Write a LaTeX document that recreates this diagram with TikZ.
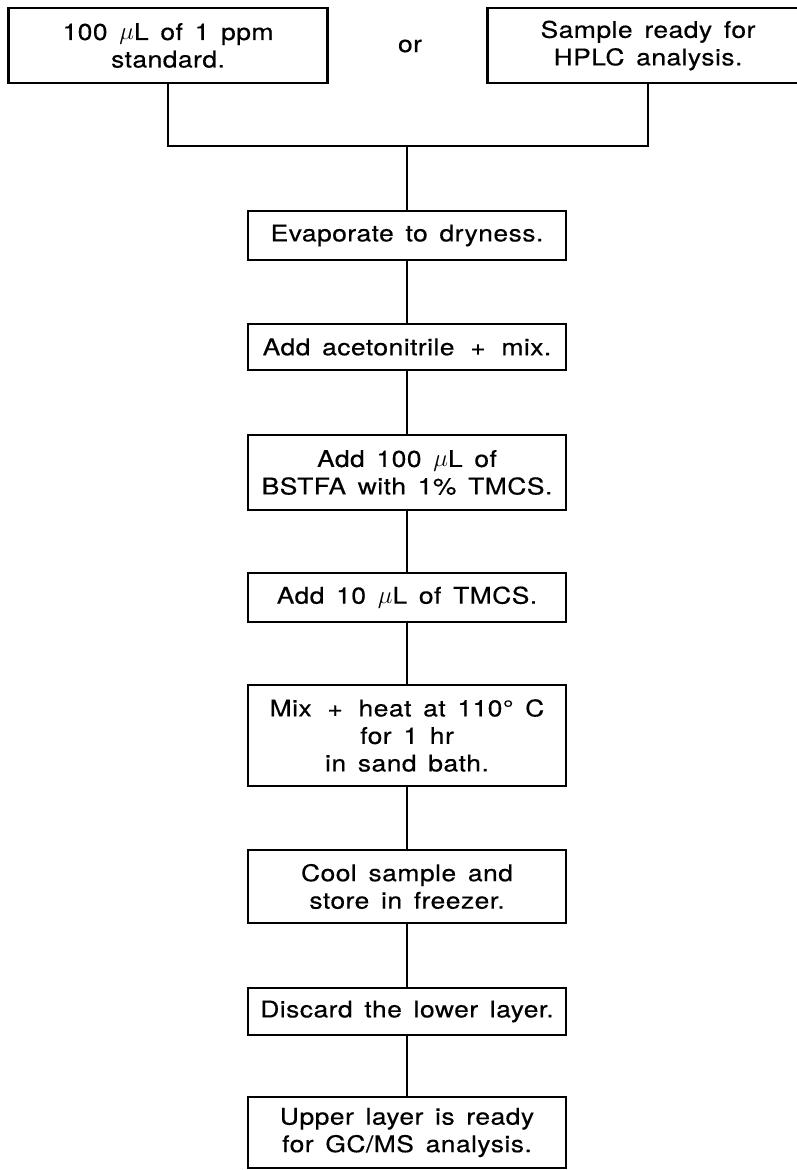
\documentclass[tikz,border=0pt]{standalone}
\usepackage{fontspec}
\setmainfont{TeX Gyre Heros}[FakeStretch=1.15, LetterSpace=2, WordSpace=1.5, FakeBold=0.4]
\newcommand{\plusgap}{\kern4pt}
\begin{document}
\begin{tikzpicture}[x=1pt,y=-1pt,
  box/.style={draw, line width=2.5pt, align=center, inner sep=0pt,
    minimum width=318pt, font=\fontsize{23}{27.5}\selectfont},
  lbl/.style={font=\fontsize{23}{27.5}\selectfont, inner sep=0pt},
  link/.style={line width=2.2pt}]
\useasboundingbox (0,0) rectangle (797,1170);
\node[box, minimum width=319pt, minimum height=75pt] (std) at (168,45.5) {100 $\mu$L of 1 ppm\\standard.};
\node[box, minimum width=321pt, minimum height=75pt] (hplc) at (648,45.5) {Sample ready for\\HPLC analysis.};
\node[lbl] (or) at (410,46) {or};
\coordinate (j) at (407,146);
\node[box, minimum height=49pt] (evap) at (407,235.5) {Evaporate to dryness.};
\node[box, minimum height=46pt] (acn) at (407,347) {Add acetonitrile\plusgap{} + \plusgap mix.};
\node[box, minimum height=75pt] (bstfa) at (407,472.5) {Add 100 $\mu$L of\\BSTFA with 1\% TMCS.};
\node[box, minimum height=49pt] (tmcs) at (407,597.5) {Add 10 $\mu$L of TMCS.};
\node[box, minimum height=101pt] (mix) at (407,735.5) {Mix\plusgap{} + \plusgap heat at 110° C\\for 1 hr\\in sand bath.};
\node[box, minimum height=73pt] (cool) at (407,886.5) {Cool sample and\\store in freezer.};
\node[box, minimum height=47pt] (disc) at (407,1011.5) {Discard the lower layer.};
\node[box, minimum height=71pt] (up) at (407,1132.5) {Upper layer is ready\\for GC/MS analysis.};
\draw[link] (std.south) |- (j) -| (hplc.south);
\draw[link] (j) -- (evap.north);
\draw[link] (evap.south) -- (acn.north);
\draw[link] (acn.south) -- (bstfa.north);
\draw[link] (bstfa.south) -- (tmcs.north);
\draw[link] (tmcs.south) -- (mix.north);
\draw[link] (mix.south) -- (cool.north);
\draw[link] (cool.south) -- (disc.north);
\draw[link] (disc.south) -- (up.north);
\end{tikzpicture}
\end{document}
